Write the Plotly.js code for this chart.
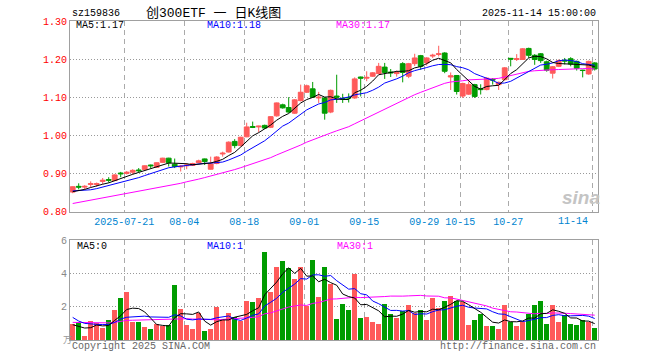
<!DOCTYPE html>
<html><head><meta charset="utf-8">
<script src="https://cdn.plot.ly/plotly-3.0.1.min.js"></script>
<style>html,body{margin:0;padding:0;background:#fff}#chart{width:660px;height:360px}</style>
</head><body><div id="chart"></div>
<script>
const dates = ['2025-07-08','2025-07-09','2025-07-10','2025-07-11','2025-07-14','2025-07-15','2025-07-16','2025-07-17','2025-07-18',
'2025-07-21','2025-07-22','2025-07-23','2025-07-24','2025-07-25','2025-07-28','2025-07-29','2025-07-30','2025-07-31',
'2025-08-01','2025-08-04','2025-08-05','2025-08-06','2025-08-07','2025-08-08','2025-08-11','2025-08-12','2025-08-13','2025-08-14','2025-08-15',
'2025-08-18','2025-08-19','2025-08-20','2025-08-21','2025-08-22','2025-08-25','2025-08-26','2025-08-27','2025-08-28','2025-08-29',
'2025-09-01','2025-09-02','2025-09-03','2025-09-04','2025-09-05','2025-09-08','2025-09-09','2025-09-10','2025-09-11','2025-09-12',
'2025-09-15','2025-09-16','2025-09-17','2025-09-18','2025-09-19','2025-09-22','2025-09-23','2025-09-24','2025-09-25','2025-09-26',
'2025-09-29','2025-09-30','2025-10-09','2025-10-10','2025-10-13','2025-10-14','2025-10-15','2025-10-16','2025-10-17',
'2025-10-20','2025-10-21','2025-10-22','2025-10-23','2025-10-24','2025-10-27','2025-10-28','2025-10-29','2025-10-30','2025-10-31',
'2025-11-03','2025-11-04','2025-11-05','2025-11-06','2025-11-07','2025-11-10','2025-11-11','2025-11-12','2025-11-13','2025-11-14'];

const open  = [0.851,0.866,0.864,0.871,0.871,0.879,0.884,0.881,0.901,0.900,0.903,0.909,0.910,0.922,0.916,0.929,0.940,0.924,0.917,0.920,
0.921,0.928,0.938,0.911,0.926,0.951,0.956,0.984,0.973,0.996,1.023,1.022,1.026,1.021,1.051,1.080,1.073,1.058,1.091,1.113,
1.122,1.098,1.098,1.061,1.103,1.097,1.099,1.098,1.153,1.150,1.155,1.162,1.179,1.166,1.162,1.188,1.155,1.188,1.209,1.190,
1.208,1.212,1.216,1.153,1.157,1.103,1.108,1.133,1.122,1.120,1.147,1.133,1.146,1.202,1.199,1.199,1.228,1.210,1.214,1.193,
1.163,1.181,1.197,1.201,1.194,1.171,1.161,1.190];
const high  = [0.866,0.874,0.869,0.879,0.876,0.888,0.890,0.898,0.904,0.906,0.911,0.914,0.921,0.923,0.929,0.941,0.941,0.939,0.922,0.927,
0.928,0.936,0.939,0.944,0.945,0.957,0.984,0.990,0.996,1.033,1.036,1.025,1.028,1.050,1.086,1.083,1.100,1.095,1.133,1.133,
1.140,1.114,1.100,1.120,1.159,1.109,1.110,1.152,1.154,1.168,1.166,1.190,1.190,1.174,1.170,1.192,1.190,1.214,1.211,1.205,
1.214,1.235,1.218,1.165,1.158,1.138,1.141,1.135,1.134,1.152,1.150,1.141,1.179,1.203,1.213,1.229,1.230,1.213,1.216,1.196,
1.182,1.199,1.203,1.205,1.196,1.172,1.196,1.192];
const low   = [0.848,0.858,0.858,0.864,0.865,0.872,0.876,0.880,0.890,0.897,0.897,0.902,0.908,0.914,0.915,0.928,0.918,0.914,0.905,0.911,
0.920,0.927,0.922,0.910,0.924,0.944,0.955,0.966,0.971,0.995,1.019,1.008,1.017,1.019,1.049,1.070,1.059,1.056,1.089,1.111,
1.098,1.085,1.041,1.058,1.085,1.085,1.086,1.096,1.102,1.142,1.153,1.160,1.148,1.153,1.154,1.139,1.150,1.182,1.172,1.183,
1.203,1.207,1.163,1.119,1.107,1.098,1.106,1.098,1.107,1.118,1.133,1.119,1.144,1.181,1.195,1.198,1.203,1.185,1.190,1.167,
1.149,1.179,1.186,1.181,1.170,1.152,1.159,1.170];
const close = [0.865,0.864,0.866,0.873,0.873,0.882,0.882,0.896,0.899,0.903,0.908,0.907,0.920,0.920,0.928,0.940,0.928,0.918,0.919,0.922,
0.926,0.933,0.931,0.925,0.943,0.953,0.982,0.973,0.995,1.022,1.021,1.024,1.019,1.049,1.085,1.072,1.061,1.093,1.113,1.130,
1.100,1.100,1.058,1.118,1.100,1.095,1.098,1.148,1.150,1.152,1.164,1.181,1.165,1.164,1.165,1.165,1.188,1.203,1.181,1.203,
1.210,1.214,1.168,1.156,1.115,1.136,1.133,1.102,1.120,1.150,1.145,1.139,1.177,1.200,1.201,1.227,1.210,1.199,1.196,1.171,
1.180,1.196,1.195,1.187,1.176,1.170,1.194,1.174];
const volume = [0.96,1.10,0.26,1.16,1.02,0.70,1.22,1.82,2.54,2.90,1.10,1.10,0.80,0.68,0.98,0.84,0.90,3.32,1.88,0.92,
0.68,1.64,0.56,0.68,1.96,1.20,1.64,1.38,1.12,2.36,2.30,2.54,5.30,2.90,4.40,4.76,4.34,3.65,4.40,2.06,
4.82,2.60,4.40,3.38,1.28,2.18,1.82,3.98,1.34,1.38,1.10,0.98,2.18,1.54,1.34,1.74,2.12,1.62,1.78,1.22,
2.54,1.94,2.36,2.66,2.36,2.30,0.92,1.18,1.58,0.86,0.82,0.66,2.12,1.06,0.82,1.06,1.54,2.12,2.36,0.94,
2.12,1.10,1.50,0.98,0.92,1.22,1.06,0.74];

// moving-average values before enough history exists
const ma5Head  = [0.852,0.855,0.858,0.863];
const ma10Head = [0.854,0.855,0.856,0.857,0.860,0.864,0.868,0.872,0.876];
const ma30Head = [0.821,0.824,0.826,0.829,0.832,0.835,0.838,0.840,0.843,0.846,0.849,0.852,0.855,0.858,0.861,0.864,0.868,0.871,
0.874,0.878,0.881,0.885,0.889,0.893,0.897,0.901,0.905,0.910,0.915];
const vma5Head  = [0.92,0.80,0.72,0.74];
const vma10Head = [1.36,1.14,1.00,0.96,0.94,0.93,0.93,1.06,1.26];
const vma30Head = [1.06,1.05,1.05,1.04,1.04,1.03,1.03,1.06,1.12,1.18,1.19,1.20,1.21,1.22,1.23,1.24,1.24,1.28,1.30,1.28,
1.26,1.24,1.22,1.21,1.22,1.24,1.26,1.28,1.30];

const tickDates  = ['2025-07-21','2025-08-04','2025-08-18','2025-09-01','2025-09-15','2025-09-29','2025-10-15','2025-10-27','2025-11-14'];
const tickLabels = ['2025-07-21','08-04','08-18','09-01','09-15','09-29','10-15','10-27','11-14'];
const priceTicks = [0.80,0.90,1.00,1.10,1.20,1.30];
const volTicks = [2,4,6];

const RED = '#ff5a5a', GREEN = '#009c00';
const MONO = 'Liberation Mono, DejaVu Sans Mono, monospace';
const CJK = 'Liberation Mono, Noto Sans CJK SC, monospace';

function movingAvg(vals, n, head) {
  return vals.map((v, i) => i < n - 1 ? head[i] :
    vals.slice(i - n + 1, i + 1).reduce((a, b) => a + b, 0) / n);
}
const idx = dates.map((d, i) => i);
const tickPos = tickDates.map(d => dates.indexOf(d) - 0.4);
const volColors = idx.map(i => close[i] >= open[i] ? RED : GREEN);

// pixel helpers for text placement
const L = 70, R = 62, T = 21, B = 20, W = 660, H = 360;
const px = x => (x - L) / (W - L - R);
const py = y => (H - B - y) / (H - T - B);

const line = (y, color, xa, ya) => ({type: 'scatter', mode: 'lines', x: idx, y: y, xaxis: xa, yaxis: ya,
  line: {color: color, width: 1}, hoverinfo: 'skip', showlegend: false});

const traces = [
  {type: 'bar', x: idx, y: volume, xaxis: 'x2', yaxis: 'y2', width: 0.8,
   marker: {color: volColors, line: {width: 0}}, hoverinfo: 'skip', showlegend: false},
  {type: 'candlestick', x: idx, open: open, high: high, low: low, close: close, xaxis: 'x', yaxis: 'y',
   increasing: {line: {color: RED, width: 1}, fillcolor: RED},
   decreasing: {line: {color: GREEN, width: 1}, fillcolor: GREEN},
   whiskerwidth: 0, hoverinfo: 'skip', showlegend: false},
  line(movingAvg(close, 30, ma30Head), '#ff00ff', 'x', 'y'),
  line(movingAvg(close, 10, ma10Head), '#0000ff', 'x', 'y'),
  line(movingAvg(close, 5, ma5Head), '#000000', 'x', 'y'),
  line(movingAvg(volume, 30, vma30Head), '#ff00ff', 'x2', 'y2'),
  line(movingAvg(volume, 10, vma10Head), '#0000ff', 'x2', 'y2'),
  line(movingAvg(volume, 5, vma5Head), '#000000', 'x2', 'y2')
];

const xCommon = {range: [-0.45, 87.55], tickmode: 'array', tickvals: tickPos,
  showgrid: true, gridcolor: '#aaaaaa', griddash: '5px,4px', gridwidth: 1,
  showline: true, mirror: true, linecolor: '#a0a0a0', linewidth: 1, zeroline: false, ticks: '', fixedrange: true};
const yCommon = {showgrid: true, gridcolor: '#999999', griddash: '1px,2px', gridwidth: 1,
  showline: true, mirror: true, linecolor: '#a0a0a0', linewidth: 1, zeroline: false, ticks: '', fixedrange: true};

const ann = (text, x, y, color, xanchor, size, family) => ({text: text, x: px(x), y: py(y), xref: 'paper', yref: 'paper',
  xanchor: xanchor || 'left', yanchor: 'middle', showarrow: false,
  font: {family: family || MONO, size: size || 10, color: color || '#000'}});

const annotations = [
  ann('sz159836', 70, 13, '#000'),
  ann('创300ETF 一 日K线图', 213.6, 13, '#000', 'center', 13, CJK),
  ann('2025-11-14 15:00:00', 597.5, 13, '#000', 'right'),
  ann('MA5:1.17', 74, 26, '#000'),
  ann('MA10:1.18', 204.8, 26, '#0000ff'),
  ann('MA30:1.17', 334.3, 26, '#ff00ff'),
  ann('MA5:0', 74.7, 246, '#000'),
  ann('MA10:1', 205, 246, '#0000ff'),
  ann('MA30:1', 335.3, 246, '#ff00ff'),
  ann('Copyright 2025 SINA.COM', 70, 346.5, '#666'),
  ann('http://finance.sina.com.cn', 597.5, 346.5, '#666', 'right'),
  ann('万', 61, 341, '#999', 'left', 9, CJK),
  ann('<b><i>sina</i></b>', 581, 197, '#c4c4c4', 'center', 19, 'Liberation Sans, Arial, sans-serif'),
  {text: tickLabels[tickLabels.length - 1], x: tickPos[tickPos.length - 1], y: py(221.7), xref: 'x', yref: 'paper',
   xanchor: 'right', yanchor: 'middle', xshift: -2, showarrow: false, font: {family: MONO, size: 10, color: '#0084d0'}}
];

const layout = {
  width: W, height: H, margin: {l: L, r: R, t: T, b: B, pad: 0},
  paper_bgcolor: '#fff', plot_bgcolor: '#fff', showlegend: false,
  boxgap: 0.2, boxgroupgap: 0, bargap: 0,
  xaxis: Object.assign({}, xCommon, {anchor: 'y', rangeslider: {visible: false},
    ticktext: tickLabels.map((t, i) => i === tickLabels.length - 1 ? '' : t),
    showticklabels: true, tickfont: {family: MONO, size: 10, color: '#0084d0'}}),
  xaxis2: Object.assign({}, xCommon, {anchor: 'y2', matches: 'x', showticklabels: false, ticktext: tickLabels}),
  yaxis: Object.assign({}, yCommon, {domain: [py(211.5), 1], range: [0.80, 1.30], tickmode: 'array',
    tickvals: priceTicks, ticktext: priceTicks.map(v => v.toFixed(2)),
    tickfont: {family: MONO, size: 10, color: '#ff0000'}}),
  yaxis2: Object.assign({}, yCommon, {domain: [0, py(240.3)], range: [0, 6], tickmode: 'array',
    tickvals: volTicks, ticktext: volTicks.map(String),
    tickfont: {family: MONO, size: 10, color: '#888'}}),
  annotations: annotations,
  font: {family: MONO, size: 10}
};

Plotly.newPlot('chart', traces, layout, {staticPlot: true, displayModeBar: false});
</script>
</body></html>
